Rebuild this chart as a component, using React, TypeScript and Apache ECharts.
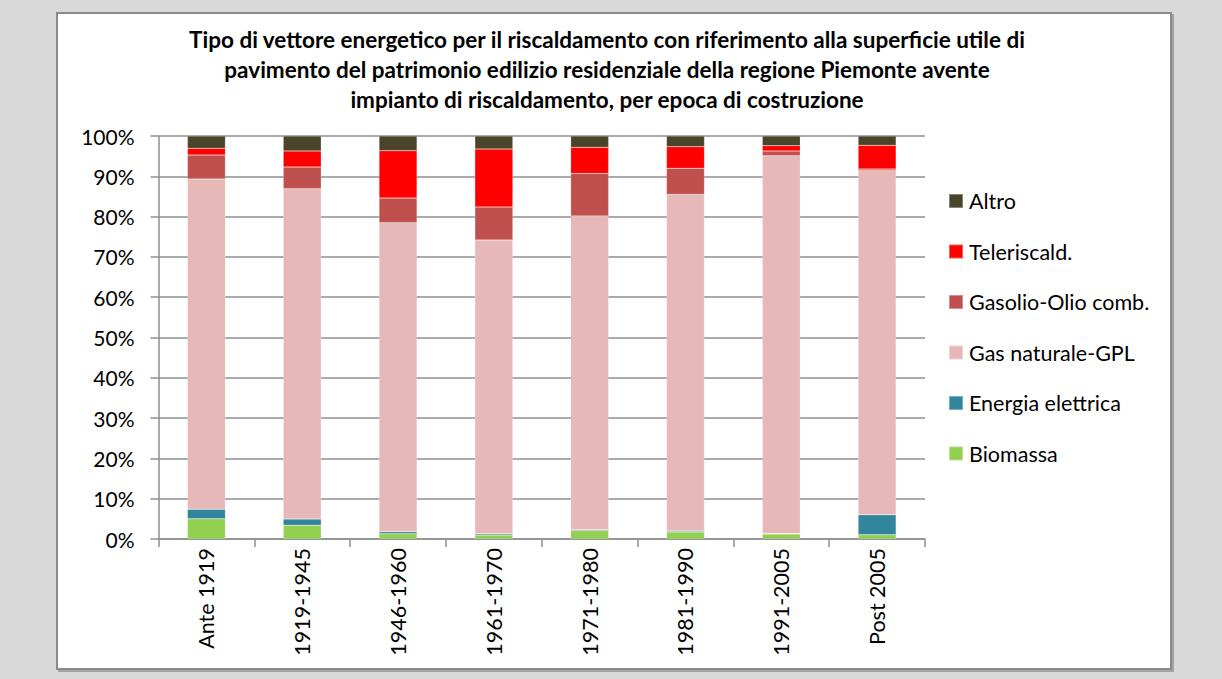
import React, { useEffect, useRef } from "react";
import * as echarts from "echarts";

const categories = ["Ante 1919", "1919-1945", "1946-1960", "1961-1970", "1971-1980", "1981-1990", "1991-2005", "Post 2005"];
const biomassa = [5.0, 3.4, 1.3, 1.0, 2.05, 1.75, 1.25, 1.05];
const energiaElettrica = [2.4, 1.55, 0.5, 0.3, 0.25, 0.25, 0.1, 4.95];
const gasNaturale = [81.9, 81.95, 76.7, 72.9, 77.85, 83.5, 93.75, 85.4];
const gasolio = [6.0, 5.4, 6.1, 8.2, 10.55, 6.5, 1.2, 0.4];
const teleriscald = [1.65, 4.0, 11.75, 14.4, 6.5, 5.35, 1.3, 5.9];
const altro = [3.05, 3.7, 3.65, 3.2, 2.8, 2.65, 2.4, 2.3];

const seriesDefs = [
  { name: "Biomassa", data: biomassa, color: "#92d050" },
  { name: "Energia elettrica", data: energiaElettrica, color: "#31859c" },
  { name: "Gas naturale-GPL", data: gasNaturale, color: "#e6b9b8" },
  { name: "Gasolio-Olio comb.", data: gasolio, color: "#c0504d" },
  { name: "Teleriscald.", data: teleriscald, color: "#ff0000" },
  { name: "Altro", data: altro, color: "#4a452a" },
];

const legendOrder = ["Altro", "Teleriscald.", "Gasolio-Olio comb.", "Gas naturale-GPL", "Energia elettrica", "Biomassa"];

const FONT = "Lato, 'Open Sans', sans-serif";

export default function App() {
  const ref = useRef<HTMLDivElement>(null);
  useEffect(() => {
    if (!ref.current) return;
    const chart = echarts.init(ref.current, null, { renderer: "svg" });
    chart.setOption({
      animation: false,
      backgroundColor: "#d9d9d9",
      textStyle: { fontFamily: FONT },
      graphic: [
        {
          type: "rect",
          shape: { x: 57, y: 13, width: 1114, height: 656 },
          style: { fill: "#ffffff", stroke: "#8a8a8a", lineWidth: 2, shadowColor: "rgba(0,0,0,0.25)", shadowOffsetX: 2, shadowOffsetY: 2, shadowBlur: 1 },
          z: -10,
          silent: true,
        },
        {
          type: "text",
          x: 607,
          y: 24,
          style: {
            text: "Tipo di vettore energetico per il riscaldamento con riferimento alla superficie utile di\npavimento del patrimonio edilizio residenziale della regione Piemonte avente\nimpianto di riscaldamento, per epoca di costruzione",
            fontFamily: FONT,
            fontWeight: "bold",
            fontSize: 22.5,
            lineHeight: 30,
            align: "center",
            verticalAlign: "top",
            fill: "#000000",
          },
        },
      ],
      legend: {
        data: legendOrder,
        orient: "vertical",
        left: 948,
        top: 190,
        padding: 0,
        itemWidth: 14,
        itemHeight: 14,
        itemGap: 28.5,
        icon: "rect",
        textStyle: { fontFamily: FONT, fontSize: 21.5, color: "#000000", padding: [0, 0, 0, 1] },
      },
      grid: { left: 158.5, right: 297, top: 136, bottom: 140, containLabel: false },
      xAxis: {
        type: "category",
        data: categories,
        axisLine: { lineStyle: { color: "#8f8f8f", width: 1.5 } },
        axisTick: { show: true, length: 8, alignWithLabel: false, lineStyle: { color: "#8f8f8f", width: 1.5 } },
        axisLabel: { rotate: 90, margin: 9, fontFamily: FONT, fontSize: 21.5, color: "#000000" },
      },
      yAxis: {
        type: "value",
        min: 0,
        max: 100,
        interval: 10,
        axisLine: { show: true, lineStyle: { color: "#8f8f8f", width: 1.5 } },
        axisTick: { show: true, length: 8, lineStyle: { color: "#8f8f8f", width: 1.5 } },
        splitLine: { lineStyle: { color: "#8f8f8f", width: 1.5 } },
        axisLabel: { formatter: "{value}%", margin: 24, fontFamily: FONT, fontSize: 21, color: "#000000" },
      },
      series: seriesDefs.map((s) => ({
        name: s.name,
        type: "bar",
        stack: "total",
        data: s.data,
        barWidth: 38,
        itemStyle: { color: s.color, borderColor: "rgba(255,255,255,0.35)", borderWidth: 0.5 },
      })),
    });
    return () => chart.dispose();
  }, []);
  return <div ref={ref} style={{ position: "absolute", left: 0, top: 0, width: 1222, height: 679 }} />;
}
